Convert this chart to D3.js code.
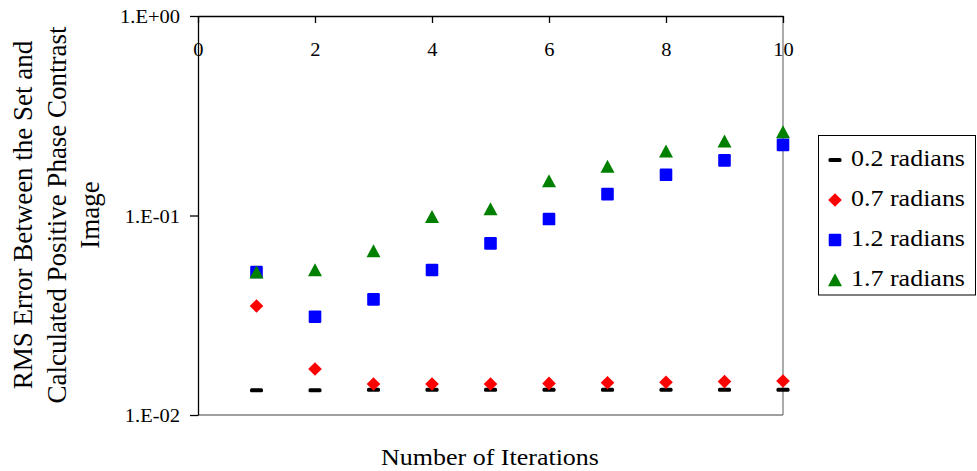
<!DOCTYPE html>
<html>
<head>
<meta charset="utf-8">
<script src="https://cdn.jsdelivr.net/npm/d3@7"></script>
<style>
  html, body { margin: 0; padding: 0; background: #fff; }
  svg { display: block; }
  text { font-family: "Liberation Serif", "Times New Roman", serif; fill: #000; }
</style>
</head>
<body>
<svg id="chart" width="977" height="471"></svg>
<script>
// Iteration numbers (x values)
const iterations = [1, 2, 3, 4, 5, 6, 7, 8, 9, 10];

// RMS error per phase amplitude
const rms02 = [0.0133, 0.0133, 0.0134, 0.0134, 0.0134, 0.0134, 0.0134, 0.0134, 0.0134, 0.0134];
const rms07 = [0.0352, 0.0170, 0.0143, 0.0143, 0.0143, 0.0144, 0.0145, 0.0146, 0.0147, 0.0148];
const rms12 = [0.0521, 0.0311, 0.0380, 0.0533, 0.0725, 0.0960, 0.128, 0.160, 0.189, 0.226];
const rms17 = [0.0520, 0.0534, 0.0664, 0.0985, 0.108, 0.149, 0.176, 0.210, 0.236, 0.262];

const seriesNames = ["0.2 radians", "0.7 radians", "1.2 radians", "1.7 radians"];
const seriesColors = ["#000000", "#ff0000", "#0000ff", "#008000"];
const seriesShapes = ["dash", "diamond", "square", "triangle"];

const xTickValues = [0, 2, 4, 6, 8, 10];
const yTickValues = [0.01, 0.1, 1];
const yTickLabels = ["1.E-02", "1.E-01", "1.E+00"];

const xTitle = "Number of Iterations";
const yTitleLines = ["RMS Error Between the Set and", "Calculated Positive Phase Contrast", "Image"];

const series = [rms02, rms07, rms12, rms17].map((vals, i) => ({
  name: seriesNames[i], color: seriesColors[i], shape: seriesShapes[i],
  points: iterations.map((it, j) => ({ x: it, y: vals[j] }))
}));

// Plot area
const plotL = 198, plotR = 783, plotT = 16, plotB = 415;
const squash = 0.88; // vertical glyph compression used throughout the figure

const svg = d3.select("#chart");
const x = d3.scaleLinear().domain([0, 10]).range([plotL, plotR]);
const y = d3.scaleLog().domain([0.01, 1]).range([plotB, plotT]);

// Plot frame: right and bottom edges in grey
svg.append("line").attr("x1", plotR).attr("x2", plotR).attr("y1", plotT).attr("y2", plotB)
  .attr("stroke", "#7f7f7f").attr("stroke-width", 1.3);
svg.append("line").attr("x1", plotL).attr("x2", plotR).attr("y1", plotB).attr("y2", plotB)
  .attr("stroke", "#7f7f7f").attr("stroke-width", 1.3);

function placeText(sel, tx, ty) {
  sel.attr("x", 0).attr("y", 0).attr("dy", null)
     .attr("transform", `translate(${tx},${ty}) scale(1,${squash})`);
}

// X axis along the top, ticks pointing into the plot
const xAxis = svg.append("g")
  .attr("transform", `translate(0,${plotT})`)
  .call(d3.axisBottom(x).tickValues(xTickValues).tickSize(7).tickSizeOuter(0).tickFormat(d3.format("d")));
xAxis.select(".domain").attr("stroke", "#000").attr("stroke-width", 1.3);
xAxis.selectAll(".tick line").attr("stroke", "#000").attr("stroke-width", 1.3);
xAxis.selectAll(".tick text")
  .attr("font-size", 20.5).attr("font-family", "Liberation Serif, Times New Roman, serif")
  .attr("text-anchor", "middle")
  .each(function () { placeText(d3.select(this), 0, 40); });

// Y axis on the left, log scale
const yAxis = svg.append("g")
  .attr("transform", `translate(${plotL},0)`)
  .call(d3.axisLeft(y).tickValues(yTickValues).tickSize(8).tickSizeOuter(0)
    .tickFormat(d => yTickLabels[yTickValues.indexOf(d)]));
yAxis.select(".domain").attr("stroke", "#000").attr("stroke-width", 1.3);
yAxis.selectAll(".tick line").attr("stroke", "#000").attr("stroke-width", 1.3);
yAxis.selectAll(".tick text")
  .attr("font-size", 20.5).attr("font-family", "Liberation Serif, Times New Roman, serif")
  .attr("text-anchor", "end")
  .each(function () { placeText(d3.select(this), -18, 6.5); });

// Marker shapes
function drawMarker(g, shape, color) {
  if (shape === "dash") {
    g.append("rect").attr("x", -6.5).attr("y", -2).attr("width", 13).attr("height", 4)
      .attr("rx", 1.5).attr("fill", color);
  } else if (shape === "diamond") {
    g.append("path").attr("d", "M0,-6.8L6.8,0L0,6.8L-6.8,0Z").attr("fill", color);
  } else if (shape === "square") {
    g.append("rect").attr("x", -6.3).attr("y", -6.3).attr("width", 12.6).attr("height", 12.6)
      .attr("rx", 1.2).attr("fill", color);
  } else if (shape === "triangle") {
    g.append("path").attr("d", "M0,-6.7L7,6.3L-7,6.3Z").attr("fill", color);
  }
}

// Data markers
series.forEach(s => {
  svg.append("g").selectAll("g")
    .data(s.points).join("g")
    .attr("transform", d => `translate(${x(d.x)},${y(d.y)})`)
    .each(function () { drawMarker(d3.select(this), s.shape, s.color); });
});

// Legend
const legend = svg.append("g");
legend.append("rect").attr("x", 818.5).attr("y", 135.5).attr("width", 157).attr("height", 159.5)
  .attr("fill", "#fff").attr("stroke", "#000").attr("stroke-width", 1);
series.forEach((s, i) => {
  const cy = 160 + i * 40;
  const mg = legend.append("g").attr("transform", `translate(835,${cy})`);
  drawMarker(mg, s.shape, s.color);
  const t = legend.append("text").attr("font-size", 26).text(s.name);
  placeText(t, 851, cy + 5.7);
});

// Axis titles
const xt = svg.append("text").attr("font-size", 26).attr("text-anchor", "middle").text(xTitle);
placeText(xt, 490, 464.5);

const yBaselines = [32, 65.5, 99];
yTitleLines.forEach((line, i) => {
  svg.append("text")
    .attr("font-size", 27).attr("text-anchor", "middle")
    .attr("transform", `translate(${yBaselines[i]},215) rotate(-90)`)
    .text(line);
});
</script>
</body>
</html>
